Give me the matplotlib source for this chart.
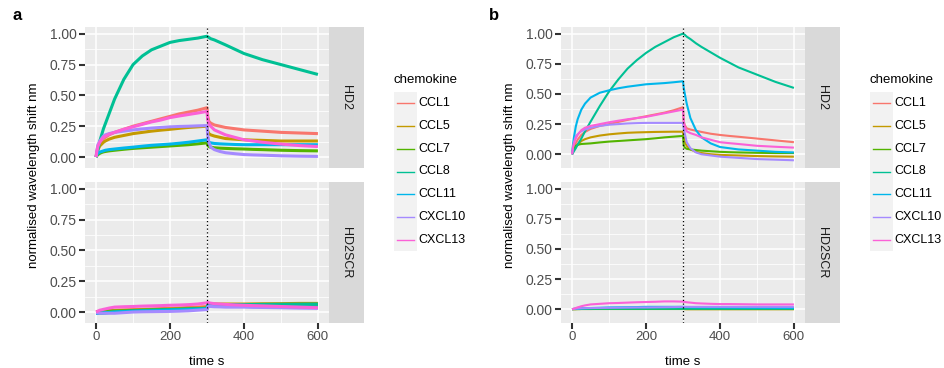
import numpy as np
import matplotlib
matplotlib.use("Agg")
import matplotlib.pyplot as plt

plt.rcParams['font.family'] = ['Liberation Sans', 'DejaVu Sans']

W, H = 945, 368

chemokines = ["CCL1", "CCL5", "CCL7", "CCL8", "CCL11", "CXCL10", "CXCL13"]
colours = ["#F8766D", "#C49A00", "#53B400", "#00C094", "#00B6EB", "#A58AFF", "#FB61D7"]
facets = ["HD2", "HD2SCR"]

# time points (s): association (0-300) then dissociation
t_on = [0, 2, 5, 10, 15, 20, 25, 35, 50, 75, 100, 125, 150, 175, 200, 225, 250, 275, 300]
t_off = [302, 305, 310, 320, 335, 350, 375, 400, 425, 450, 500, 550, 600]
t = t_on + t_off

# panel a, HD2
a_hd2_ccl1 = [0, 0.04, 0.07, 0.11, 0.13, 0.15, 0.16, 0.18, 0.20, 0.225, 0.25, 0.27, 0.29, 0.31, 0.33, 0.35, 0.365, 0.38, 0.40] + \
             [0.33, 0.29, 0.275, 0.26, 0.25, 0.24, 0.23, 0.22, 0.215, 0.21, 0.20, 0.195, 0.19]
a_hd2_ccl5 = [0, 0.03, 0.06, 0.09, 0.105, 0.12, 0.13, 0.145, 0.16, 0.175, 0.19, 0.20, 0.21, 0.218, 0.225, 0.233, 0.24, 0.245, 0.25] + \
             [0.21, 0.19, 0.18, 0.17, 0.16, 0.15, 0.145, 0.14, 0.137, 0.135, 0.13, 0.13, 0.13]
a_hd2_ccl7 = [0, 0.01, 0.02, 0.03, 0.037, 0.042, 0.045, 0.05, 0.055, 0.063, 0.07, 0.075, 0.08, 0.085, 0.09, 0.095, 0.10, 0.107, 0.115] + \
             [0.095, 0.085, 0.08, 0.075, 0.072, 0.07, 0.067, 0.065, 0.062, 0.06, 0.055, 0.052, 0.05]
a_hd2_ccl8 = [0, 0.02, 0.06, 0.13, 0.18, 0.23, 0.27, 0.35, 0.47, 0.63, 0.75, 0.82, 0.87, 0.90, 0.93, 0.945, 0.955, 0.965, 0.98] + \
             [0.975, 0.97, 0.96, 0.95, 0.93, 0.91, 0.875, 0.84, 0.815, 0.79, 0.75, 0.71, 0.67]
a_hd2_ccl11 = [0, 0.02, 0.03, 0.04, 0.045, 0.05, 0.055, 0.06, 0.065, 0.073, 0.08, 0.088, 0.095, 0.10, 0.105, 0.112, 0.12, 0.13, 0.14] + \
              [0.13, 0.12, 0.115, 0.11, 0.107, 0.105, 0.102, 0.10, 0.10, 0.10, 0.10, 0.10, 0.10]
a_hd2_cxcl10 = [0, 0.05, 0.10, 0.13, 0.15, 0.17, 0.18, 0.19, 0.20, 0.21, 0.22, 0.228, 0.235, 0.24, 0.245, 0.248, 0.25, 0.253, 0.255] + \
               [0.18, 0.12, 0.08, 0.06, 0.045, 0.035, 0.027, 0.02, 0.017, 0.015, 0.01, 0.007, 0.005]
a_hd2_cxcl13 = [0, 0.05, 0.09, 0.12, 0.14, 0.16, 0.17, 0.185, 0.20, 0.225, 0.245, 0.265, 0.285, 0.30, 0.32, 0.333, 0.345, 0.357, 0.37] + \
               [0.30, 0.27, 0.25, 0.22, 0.20, 0.18, 0.16, 0.14, 0.13, 0.12, 0.105, 0.093, 0.085]

# panel a, HD2SCR
a_scr_ccl1 = [0, 0.001, 0.003, 0.005, 0.007, 0.008, 0.01, 0.012, 0.015, 0.018, 0.02, 0.022, 0.025, 0.028, 0.03, 0.033, 0.037, 0.04, 0.045] + \
             [0.06, 0.065, 0.065, 0.063, 0.06, 0.06, 0.058, 0.055, 0.054, 0.053, 0.052, 0.05, 0.05]
a_scr_ccl5 = [0, 0.001, 0.002, 0.004, 0.005, 0.006, 0.007, 0.008, 0.01, 0.012, 0.015, 0.018, 0.02, 0.022, 0.025, 0.028, 0.03, 0.032, 0.035] + \
             [0.06, 0.065, 0.065, 0.065, 0.065, 0.065, 0.065, 0.065, 0.066, 0.067, 0.068, 0.07, 0.07]
a_scr_ccl7 = [0, 0, 0, 0.002, 0.003, 0.004, 0.005, 0.006, 0.008, 0.01, 0.012, 0.015, 0.017, 0.018, 0.02, 0.022, 0.025, 0.027, 0.03] + \
             [0.055, 0.06, 0.06, 0.06, 0.06, 0.06, 0.06, 0.06, 0.06, 0.06, 0.06, 0.06, 0.06]
a_scr_ccl8 = [-0.01, -0.01, -0.01, -0.01, -0.01, -0.009, -0.008, -0.005, 0, 0.005, 0.01, 0.012, 0.015, 0.018, 0.02, 0.022, 0.025, 0.027, 0.03] + \
             [0.055, 0.06, 0.06, 0.06, 0.06, 0.06, 0.06, 0.06, 0.061, 0.062, 0.063, 0.064, 0.065]
a_scr_ccl11 = [-0.01, -0.01, -0.01, -0.008, -0.007, -0.006, -0.005, -0.003, 0, 0.003, 0.005, 0.008, 0.01, 0.012, 0.015, 0.017, 0.02, 0.022, 0.025] + \
              [0.045, 0.05, 0.05, 0.048, 0.047, 0.046, 0.045, 0.045, 0.044, 0.043, 0.042, 0.041, 0.04]
a_scr_cxcl10 = [-0.005, -0.006, -0.008, -0.01, -0.01, -0.01, -0.01, -0.01, -0.01, -0.005, 0, 0.002, 0.003, 0.004, 0.005, 0.007, 0.01, 0.015, 0.02] + \
               [0.04, 0.045, 0.045, 0.043, 0.042, 0.04, 0.04, 0.04, 0.038, 0.037, 0.035, 0.032, 0.03]
a_scr_cxcl13 = [0, 0.003, 0.008, 0.015, 0.018, 0.022, 0.025, 0.032, 0.04, 0.043, 0.045, 0.048, 0.05, 0.052, 0.055, 0.057, 0.06, 0.065, 0.075] + \
               [0.08, 0.075, 0.072, 0.068, 0.065, 0.062, 0.058, 0.055, 0.052, 0.05, 0.045, 0.04, 0.035]

# panel b, HD2
b_hd2_ccl1 = [0, 0.03, 0.06, 0.09, 0.12, 0.14, 0.16, 0.185, 0.21, 0.235, 0.25, 0.268, 0.285, 0.30, 0.315, 0.33, 0.345, 0.365, 0.39] + \
             [0.27, 0.24, 0.215, 0.205, 0.195, 0.185, 0.17, 0.16, 0.152, 0.145, 0.13, 0.115, 0.10]
b_hd2_ccl5 = [0, 0.02, 0.04, 0.06, 0.08, 0.095, 0.11, 0.125, 0.14, 0.155, 0.165, 0.172, 0.178, 0.181, 0.183, 0.185, 0.186, 0.187, 0.187] + \
             [0.14, 0.10, 0.07, 0.04, 0.02, 0.01, 0.0, -0.005, -0.008, -0.01, -0.015, -0.018, -0.02]
b_hd2_ccl7 = [0, 0.03, 0.05, 0.07, 0.077, 0.082, 0.085, 0.087, 0.09, 0.098, 0.105, 0.11, 0.115, 0.12, 0.125, 0.132, 0.14, 0.146, 0.152] + \
             [0.07, 0.055, 0.045, 0.04, 0.035, 0.03, 0.025, 0.02, 0.017, 0.015, 0.012, 0.01, 0.01]
b_hd2_ccl8 = [0, 0.01, 0.025, 0.05, 0.08, 0.105, 0.13, 0.19, 0.27, 0.40, 0.52, 0.62, 0.71, 0.78, 0.84, 0.89, 0.93, 0.97, 1.0] + \
             [0.995, 0.99, 0.975, 0.955, 0.92, 0.89, 0.845, 0.80, 0.76, 0.72, 0.66, 0.60, 0.55]
b_hd2_ccl11 = [0, 0.07, 0.14, 0.23, 0.29, 0.33, 0.37, 0.42, 0.47, 0.51, 0.53, 0.547, 0.56, 0.57, 0.58, 0.585, 0.59, 0.597, 0.605] + \
              [0.55, 0.50, 0.42, 0.30, 0.20, 0.14, 0.09, 0.06, 0.05, 0.04, 0.03, 0.02, 0.015]
b_hd2_cxcl10 = [0, 0.05, 0.10, 0.15, 0.165, 0.18, 0.19, 0.205, 0.22, 0.235, 0.245, 0.25, 0.255, 0.258, 0.26, 0.26, 0.26, 0.26, 0.26] + \
               [0.21, 0.17, 0.10, 0.05, 0.015, 0.0, -0.01, -0.02, -0.025, -0.03, -0.04, -0.045, -0.05]
b_hd2_cxcl13 = [0, 0.05, 0.09, 0.13, 0.16, 0.18, 0.20, 0.22, 0.235, 0.25, 0.265, 0.278, 0.29, 0.30, 0.31, 0.325, 0.34, 0.355, 0.37] + \
               [0.27, 0.23, 0.19, 0.175, 0.16, 0.14, 0.12, 0.10, 0.092, 0.085, 0.07, 0.062, 0.055]

# panel b, HD2SCR
b_scr_ccl1 = [0, 0.001, 0.001, 0.002, 0.002, 0.003, 0.003, 0.004, 0.004, 0.005, 0.005, 0.006, 0.006, 0.006, 0.006, 0.007, 0.007, 0.007, 0.007] + \
             [0.006, 0.006, 0.006, 0.006, 0.006, 0.006, 0.005, 0.005, 0.005, 0.005, 0.005, 0.005, 0.005]
b_scr_ccl5 = [0, 0.001, 0.001, 0.001, 0.002, 0.002, 0.002, 0.002, 0.002, 0.003, 0.003, 0.003, 0.003, 0.003, 0.003, 0.003, 0.003, 0.003, 0.003] + \
             [0.002, 0.001, 0, 0, 0, 0, 0, 0, 0, 0, 0, 0, 0]
b_scr_ccl7 = [0, 0.001, 0.001, 0.001, 0.001, 0.001, 0.002, 0.002, 0.002, 0.002, 0.002, 0.002, 0.002, 0.002, 0.002, 0.002, 0.002, 0.002, 0.002] + \
             [0.002, 0.002, 0.002, 0.002, 0.002, 0.002, 0.002, 0.002, 0.002, 0.002, 0.002, 0.002, 0.002]
b_scr_ccl8 = [0, 0.001, 0.002, 0.002, 0.003, 0.003, 0.003, 0.004, 0.004, 0.005, 0.005, 0.005, 0.005, 0.005, 0.005, 0.005, 0.005, 0.005, 0.005] + \
             [0.005, 0.005, 0.005, 0.005, 0.005, 0.005, 0.005, 0.005, 0.005, 0.005, 0.005, 0.005, 0.005]
b_scr_ccl11 = [0, 0.002, 0.003, 0.005, 0.006, 0.007, 0.008, 0.009, 0.01, 0.012, 0.015, 0.016, 0.017, 0.018, 0.02, 0.02, 0.02, 0.02, 0.02] + \
              [0.02, 0.019, 0.018, 0.017, 0.016, 0.016, 0.015, 0.015, 0.014, 0.013, 0.012, 0.011, 0.01]
b_scr_cxcl10 = [0, 0.002, 0.003, 0.005, 0.006, 0.007, 0.008, 0.009, 0.01, 0.011, 0.012, 0.013, 0.014, 0.015, 0.015, 0.016, 0.017, 0.018, 0.02] + \
               [0.02, 0.02, 0.02, 0.02, 0.02, 0.02, 0.02, 0.02, 0.02, 0.02, 0.02, 0.02, 0.02]
b_scr_cxcl13 = [0, 0.002, 0.005, 0.01, 0.016, 0.02, 0.025, 0.032, 0.04, 0.045, 0.05, 0.052, 0.055, 0.058, 0.06, 0.062, 0.065, 0.065, 0.063] + \
               [0.062, 0.06, 0.058, 0.055, 0.05, 0.048, 0.045, 0.043, 0.043, 0.042, 0.04, 0.04, 0.04]

panel_a = {"HD2": [a_hd2_ccl1, a_hd2_ccl5, a_hd2_ccl7, a_hd2_ccl8, a_hd2_ccl11, a_hd2_cxcl10, a_hd2_cxcl13],
           "HD2SCR": [a_scr_ccl1, a_scr_ccl5, a_scr_ccl7, a_scr_ccl8, a_scr_ccl11, a_scr_cxcl10, a_scr_cxcl13]}
panel_b = {"HD2": [b_hd2_ccl1, b_hd2_ccl5, b_hd2_ccl7, b_hd2_ccl8, b_hd2_ccl11, b_hd2_cxcl10, b_hd2_cxcl13],
           "HD2SCR": [b_scr_ccl1, b_scr_ccl5, b_scr_ccl7, b_scr_ccl8, b_scr_ccl11, b_scr_cxcl10, b_scr_cxcl13]}

fig = plt.figure(figsize=(W / 100, H / 100), dpi=100)


def px_axes(l, top, r, b):
    return fig.add_axes([l / W, 1 - b / H, (r - l) / W, (b - top) / H])


def draw_panel(data, left, right, ylim, lw, letter):
    rows = [(27, 168), (182, 323)]
    for k, name in enumerate(facets):
        top, bot = rows[k]
        ax = px_axes(left, top, right, bot)
        ax.set_facecolor("#EBEBEB")
        for s in ax.spines.values():
            s.set_visible(False)
        ax.set_xlim(-30, 630)
        ax.set_ylim(*ylim)
        ax.set_xticks([0, 200, 400, 600])
        ax.set_xticks([100, 300, 500], minor=True)
        ax.set_yticks([0, 0.25, 0.5, 0.75, 1.0])
        ax.set_yticks([0.125, 0.375, 0.625, 0.875], minor=True)
        ax.set_yticklabels(["0.00", "0.25", "0.50", "0.75", "1.00"])
        ax.grid(True, which="major", color="white", lw=1.1)
        ax.grid(True, which="minor", color="white", lw=0.55)
        ax.set_axisbelow(True)
        ax.tick_params(which="major", length=4.5, width=1.5, color="#333333",
                       labelcolor="#4D4D4D", labelsize=9.5, pad=1.5)
        ax.tick_params(axis="y", which="major", labelsize=10)
        ax.tick_params(which="minor", length=0)
        if k == 0:
            ax.tick_params(axis="x", which="major", labelbottom=False, length=0)
        for vals, col in zip(data[name], colours):
            assert len(vals) == len(t)
            ax.plot(t, vals, color=col, lw=lw, solid_capstyle="butt", solid_joinstyle="round")
        ax.axvline(300, color="black", lw=0.9, ls=(0, (1, 2)))
        # facet strip
        st = px_axes(right, top, right + 35, bot)
        st.set_facecolor("#D9D9D9")
        st.set_xticks([])
        st.set_yticks([])
        for s in st.spines.values():
            s.set_visible(False)
        st.text(0.5, 0.5, name, rotation=-90, ha="center", va="center",
                fontsize=9, color="#1A1A1A", transform=st.transAxes)
    cx = (left + right) / 2
    fig.text(cx / W, 1 - 365 / H, "time s", ha="center", va="baseline", fontsize=9.5)
    fig.text((left - 51) / W, 1 - 175 / H, "normalised wavelength shift nm",
             rotation=90, ha="center", va="center", fontsize=9.5)
    fig.text((left - 72) / W, 1 - 20 / H, letter, fontsize=12, fontweight="bold",
             ha="left", va="baseline")
    # legend
    lx = right + 65
    fig.text(lx / W, 1 - 80 / H, "chemokine", fontsize=9.5, ha="left", va="center")
    lg = px_axes(lx, 92, lx + 23, 251)
    lg.set_xlim(0, 1)
    lg.set_ylim(len(chemokines), 0)
    lg.set_facecolor("#F2F2F2")
    lg.set_xticks([])
    lg.set_yticks([])
    for s in lg.spines.values():
        s.set_visible(False)
    for i, (c, col) in enumerate(zip(chemokines, colours)):
        lg.plot([0.15, 0.85], [i + 0.5, i + 0.5], color=col, lw=1.0)
        fig.text((lx + 24) / W, 1 - (92 + 22.7 * (i + 0.5)) / H, c, fontsize=9,
                 ha="left", va="center")


draw_panel(panel_a, 85, 329, (-0.089, 1.055), 2.2, "a")
draw_panel(panel_b, 561, 805, (-0.114, 1.055), 1.5, "b")

fig.savefig("out.png", dpi=100)
